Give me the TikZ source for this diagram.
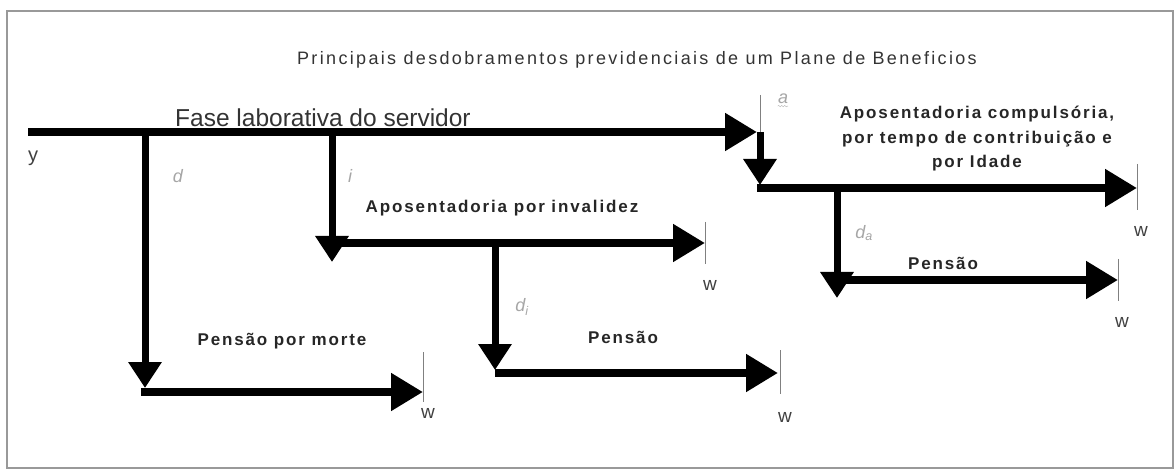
\documentclass[tikz,border=0pt]{standalone}
\usepackage{fontspec}
\setmainfont{Liberation Sans}
\newfontfamily\spacedfont[LetterSpace=11]{Liberation Sans}
\newfontfamily\headfont[LetterSpace=13]{Liberation Sans}
\usetikzlibrary{arrows.meta, decorations.pathmorphing}

\begin{document}
\begin{tikzpicture}[x=1pt, y=-1pt,
  hflow/.style={line width=8pt, -{Triangle[length=32pt, width=36pt]}},
  vflow/.style={line width=7pt, -{Triangle[length=26pt, width=32pt]}},
  tick/.style={gray, line width=0.8pt},
  title/.style={anchor=base, inner sep=0pt, text=black!80, font=\headfont\fontsize{18}{20}\selectfont},
  branch/.style={anchor=base, inner sep=0pt, align=center, text=black!85, font=\spacedfont\bfseries\fontsize{17}{24.5}\selectfont},
  rate/.style={inner sep=0pt, text=gray!70, font=\itshape\fontsize{18}{20}\selectfont},
  endlbl/.style={inner sep=0pt, text=black!75, font=\fontsize{19}{20}\selectfont}]

  \useasboundingbox (0, 0) rectangle (1175, 470);
  \draw[gray!80, line width=1.2pt] (7, 11) rectangle (1173, 468);

  \node[title] (ttl) at (637, 65) {Principais desdobramentos previdenciais de um Plane de Beneficios};

  % main line and branching points
  \coordinate (y0) at (28, 132);
  \coordinate (ret) at (757, 132);
  \coordinate (dtop) at (145, 132);
  \coordinate (itop) at (332, 132);
  \coordinate (atop) at (760, 132);

  \coordinate (dtip) at (145, 388);
  \coordinate (dcorner) at (141, 392);
  \coordinate (dend) at (423, 392);

  \coordinate (itip) at (332, 262);
  \coordinate (icorner) at (332, 243);
  \coordinate (iend) at (705, 243);

  \coordinate (ditop) at (495, 243);
  \coordinate (ditip) at (495, 370);
  \coordinate (dicorner) at (495, 373);
  \coordinate (diend) at (778, 373);

  \coordinate (atip) at (760, 185);
  \coordinate (acorner) at (757, 188);
  \coordinate (aend) at (1137, 188);

  \coordinate (datop) at (837, 188);
  \coordinate (datip) at (837, 298);
  \coordinate (dacorner) at (837, 280);
  \coordinate (daend) at (1118, 280);

  \draw[hflow] (y0) -- (ret);
  \draw[tick] (760, 95) -- (760, 145);

  \draw[vflow] (dtop) -- (dtip);
  \draw[hflow] (dcorner) -- (dend);
  \draw[tick] (423, 352) -- (423, 402);

  \draw[hflow] (icorner) -- (iend);
  \draw[vflow] (itop) -- (itip);
  \draw[tick] (705, 222) -- (705, 264);

  \draw[vflow] (ditop) -- (ditip);
  \draw[hflow] (dicorner) -- (diend);
  \draw[tick] (780, 350) -- (780, 394);

  \draw[vflow] (atop) -- (atip);
  \draw[hflow] (acorner) -- (aend);
  \draw[tick] (1137, 164) -- (1137, 210);

  \draw[hflow] (dacorner) -- (daend);
  \draw[vflow] (datop) -- (datip);
  \draw[tick] (1118, 259) -- (1118, 301);

  \node[anchor=base west, inner sep=0pt, text=black!80, font=\fontsize{24.5}{26}\selectfont] (fase) at (175, 127) {Fase laborativa do servidor};
  \node[inner sep=0pt, text=black!75, font=\fontsize{20}{22}\selectfont] (yl) at (33, 158) {y};

  \node[rate] (dl) at (178, 176) {d};
  \node[rate] (il) at (350, 176) {i};
  \node[rate] (dil) at (522, 307) {d\textsubscript{i}};
  \node[rate] (al) at (783, 99) {a};
  \draw[gray!60, decorate, decoration={snake, amplitude=0.7pt, segment length=3pt}] ([yshift=-2pt]al.south west) -- ([yshift=-2pt]al.south east);
  \node[rate] (dal) at (864, 233) {d\textsubscript{a}};

  \node[branch] (morte) at (282, 345) {Pensão por morte};
  \node[branch] (inval) at (502, 213) {Aposentadoria por invalidez};
  \node[branch] (pensi) at (623, 343) {Pensão};
  \node[branch] (compul) at (977, 168) {Aposentadoria compulsória,\\por tempo de contribuição e\\por Idade};
  \node[branch] (pensa) at (943, 270) {Pensão};

  \node[endlbl] (w1) at (428, 413) {w};
  \node[endlbl] (w2) at (710, 285) {w};
  \node[endlbl] (w3) at (785, 417) {w};
  \node[endlbl] (w4) at (1141, 231) {w};
  \node[endlbl] (w5) at (1122, 322) {w};

\end{tikzpicture}
\end{document}
